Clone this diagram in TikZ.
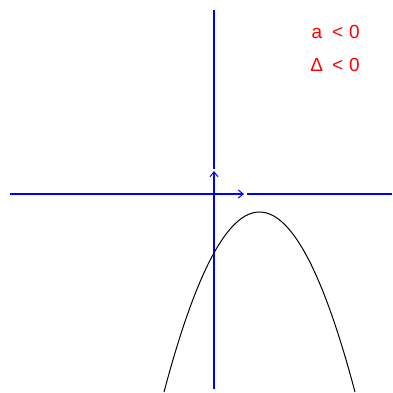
\documentclass[tikz,border=0pt]{standalone}
\usepackage{fontspec}
\setmainfont{Liberation Sans}
\usetikzlibrary{arrows.meta}
\begin{document}
\begin{tikzpicture}[x=1pt,y=-1pt,
  axis/.style={draw=blue,line width=1.5pt},
  unitvec/.style={draw=blue,line width=1.5pt,-{Straight Barb[length=5pt,width=8pt,line width=1pt]}},
  curve/.style={draw=black,line width=1pt},
  cond/.style={text=red,font=\fontsize{19}{21}\selectfont,anchor=base east,inner sep=0pt}]
\useasboundingbox (0,0) rectangle (393,392);
\coordinate (O) at (214,194);
\coordinate (xl) at (10,194);
\coordinate (xi) at (244,194);
\coordinate (xs) at (247,194);
\coordinate (xr) at (392,194);
\coordinate (yb) at (214,389);
\coordinate (yj) at (214,171);
\coordinate (ys) at (214,169);
\coordinate (yt) at (214,10);
\path[axis] (xl) -- (O);
\path[axis] (xs) -- (xr);
\path[axis] (yb) -- (O);
\path[axis] (ys) -- (yt);
\path[unitvec] (O) -- (xi);
\path[unitvec] (O) -- (yj);
\coordinate (pl) at (164,392);
\coordinate (pc1) at (227.67,152);
\coordinate (pc2) at (291.33,152);
\coordinate (pr) at (355,392);
\path[curve] (pl) .. controls (pc1) and (pc2) .. (pr);
\node[cond] (c1) at (360,38) {a\hspace{10pt}<\hspace{6pt}0};
\node[cond] (c2) at (360,71) {Δ\hspace{9pt}<\hspace{6pt}0};
\end{tikzpicture}
\end{document}
